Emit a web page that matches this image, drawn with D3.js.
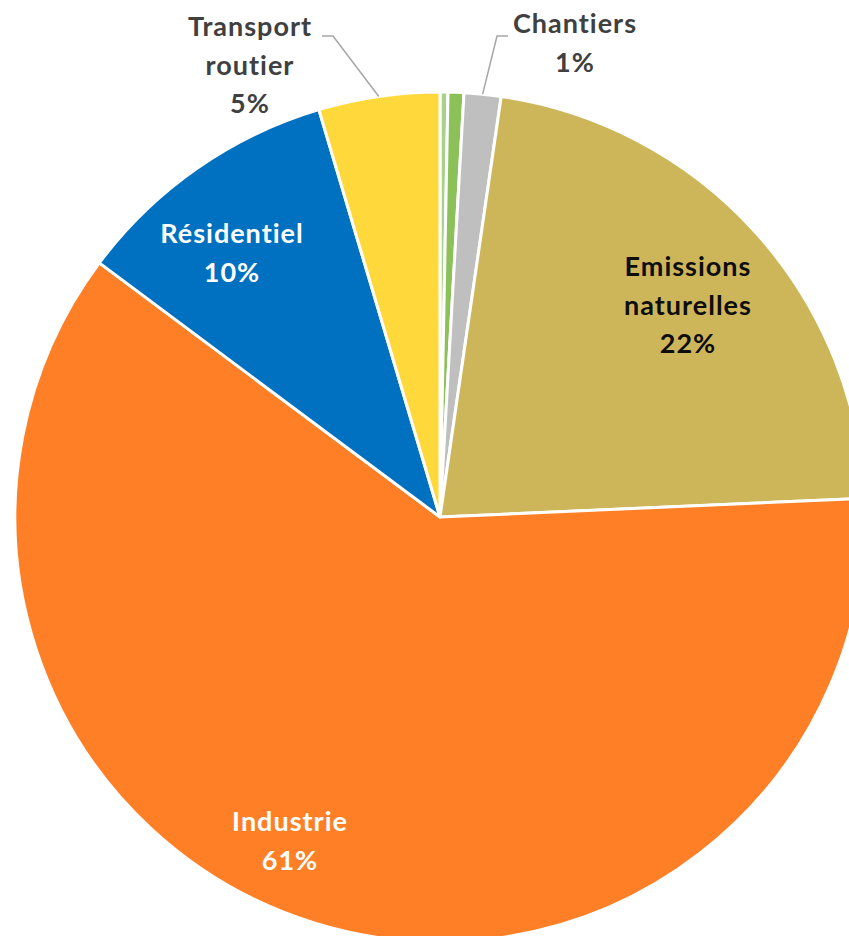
<!DOCTYPE html>
<html>
<head>
<meta charset="utf-8">
<script src="https://cdn.jsdelivr.net/npm/d3@7/dist/d3.min.js"></script>
<style>
  html, body { margin: 0; padding: 0; background: #fff; }
  svg { display: block; }
  text { font-family: Lato, "Open Sans", sans-serif; font-weight: bold; }
</style>
</head>
<body>
<div id="chart"></div>
<script>
// Sources of emissions, in percent, clockwise from 12 o'clock
const categories = ["Autres 1", "Autres 2", "Chantiers", "Emissions naturelles", "Industrie", "Résidentiel", "Transport routier"];
const values = [0.3, 0.6, 1.4, 22.0, 60.9, 10.2, 4.6];
const colors = ["#A9D18E", "#8CC15A", "#BFBFBF", "#CDB65A", "#FF7F27", "#0070C0", "#FFD93B"];
// Label text lines (the last line is the rounded percentage)
const labelLines = [null, null, ["Chantiers"], ["Emissions", "naturelles"], ["Industrie"], ["Résidentiel"], ["Transport", "routier"]];

const W = 849, H = 936;
const cx = 440, cy = 517, R = 425;

// Label layout: centre x, first baseline y, text colour, optional leader elbow
const labelLayout = {
  "Chantiers":            { x: 575, y: 33,  fill: "#404040", elbow: [497, 36], end: [508, 36] },
  "Emissions naturelles": { x: 688, y: 276, fill: "#0D0D0D" },
  "Industrie":            { x: 290, y: 831, fill: "#FFFFFF" },
  "Résidentiel":          { x: 232, y: 243, fill: "#FFFFFF" },
  "Transport routier":    { x: 250, y: 36,  fill: "#404040", elbow: [333, 36], end: [322, 36] }
};
const lineStep = 38.5;

const svg = d3.select("#chart").append("svg")
  .attr("width", W).attr("height", H);

const pie = d3.pie().sort(null).value(d => d.value).startAngle(0).endAngle(2 * Math.PI);
const data = categories.map((c, i) => ({ name: c, value: values[i], color: colors[i], lines: labelLines[i] }));
const arcs = pie(data);

const arc = d3.arc().innerRadius(0).outerRadius(R);

const g = svg.append("g").attr("transform", `translate(${cx},${cy})`);

g.selectAll("path.slice")
  .data(arcs)
  .join("path")
  .attr("class", "slice")
  .attr("d", arc)
  .attr("fill", d => d.data.color)
  .attr("stroke", "#fff")
  .attr("stroke-width", 3)
  .attr("stroke-linejoin", "round");

// Leader lines from slice edge to outside labels
arcs.filter(d => d.data.lines && labelLayout[d.data.name].elbow).forEach(d => {
  const L = labelLayout[d.data.name];
  const mid = (d.startAngle + d.endAngle) / 2;
  const px = cx + R * Math.sin(mid), py = cy - R * Math.cos(mid);
  svg.append("polyline")
    .attr("points", [[px, py], L.elbow, L.end].map(p => p.join(",")).join(" "))
    .attr("fill", "none")
    .attr("stroke", "#A6A6A6")
    .attr("stroke-width", 1.5);
});

// Labels
arcs.filter(d => d.data.lines).forEach(d => {
  const L = labelLayout[d.data.name];
  const lines = d.data.lines.concat([Math.round(d.data.value) + "%"]);
  const t = svg.append("text")
    .attr("text-anchor", "middle")
    .attr("fill", L.fill)
    .attr("font-size", 27)
    .attr("letter-spacing", 1);
  lines.forEach((s, i) => {
    t.append("tspan").attr("x", L.x).attr("y", L.y + i * lineStep).text(s);
  });
});
</script>
</body>
</html>
